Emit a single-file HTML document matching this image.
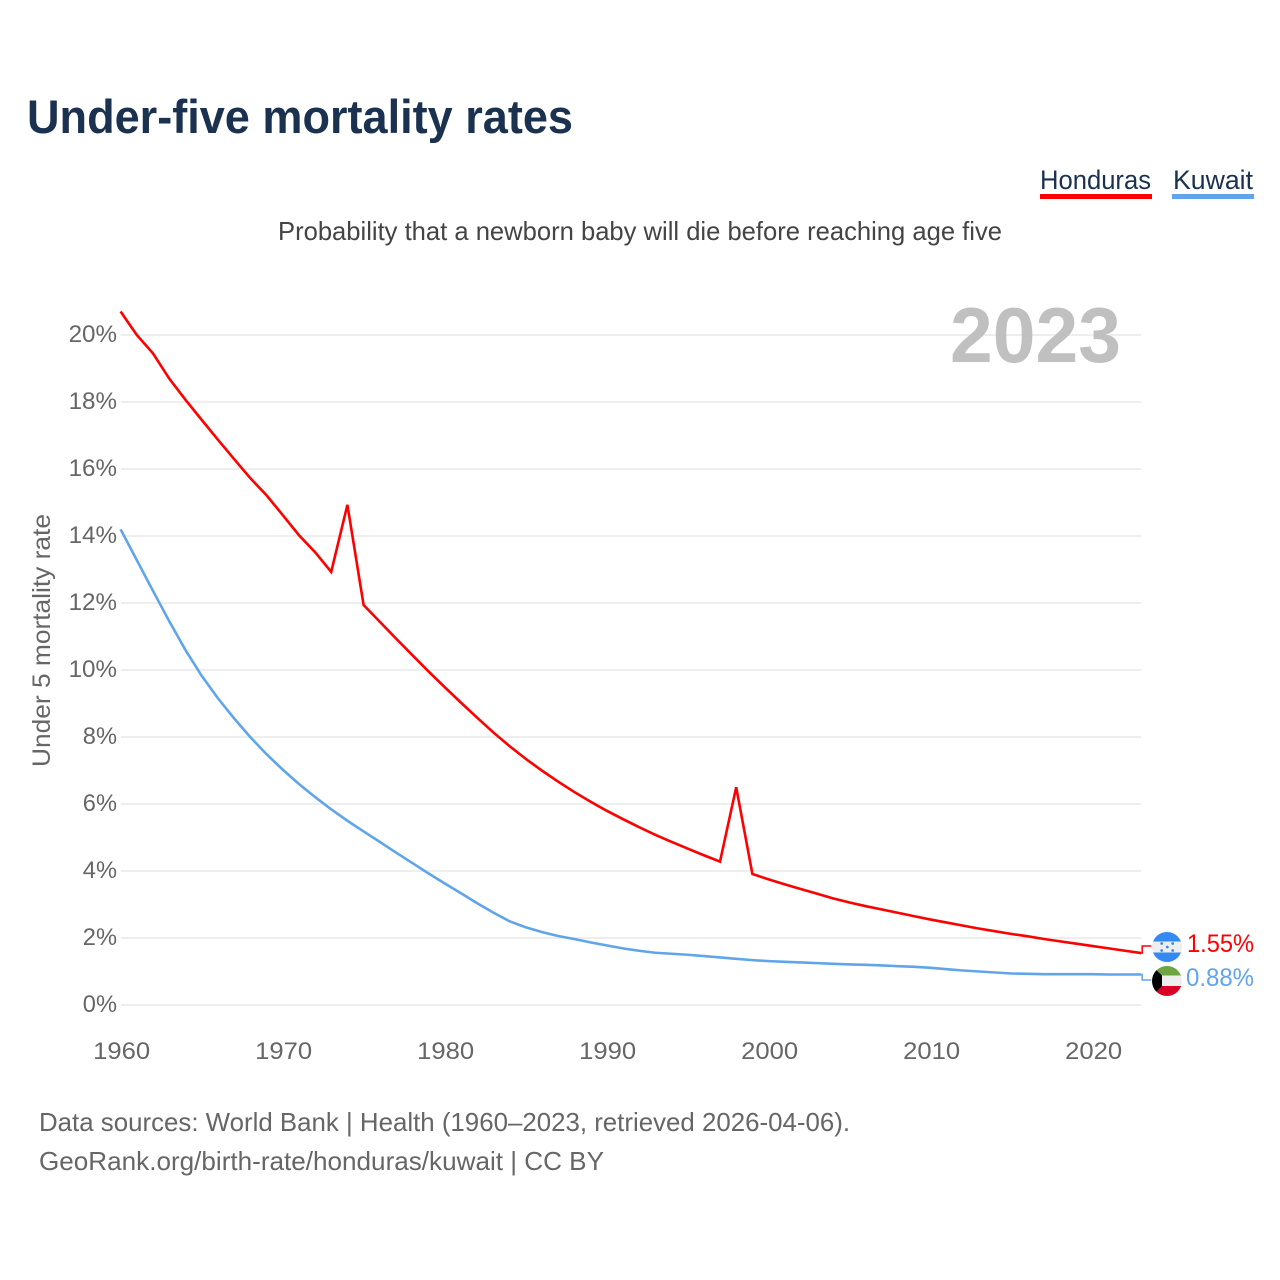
<!DOCTYPE html>
<html lang="en">
<head>
<meta charset="utf-8">
<title>Under-five mortality rates</title>
<style>
html,body{margin:0;padding:0;background:#fff;width:1280px;height:1280px;overflow:hidden}
svg{display:block}
text{font-family:"Liberation Sans",sans-serif}
</style>
</head>
<body>
<svg id="chart" xmlns="http://www.w3.org/2000/svg" width="1280" height="1280" viewBox="0 0 1280 1280">
  <defs>
    <clipPath id="clip-hn"><circle cx="1167" cy="947" r="15"/></clipPath>
    <clipPath id="clip-kw"><circle cx="1167" cy="981" r="15"/></clipPath>
  </defs>
  <text x="27" y="133" font-size="47" font-weight="700" fill="#1a3150" textLength="546" lengthAdjust="spacingAndGlyphs">Under-five mortality rates</text>
  <g>
    <text x="1040" y="189" font-size="27" fill="#1a3150" textLength="111" lengthAdjust="spacingAndGlyphs">Honduras</text>
    <rect x="1040" y="194" width="112" height="5" fill="#ff0000"/>
  </g>
  <g>
    <text x="1173" y="189" font-size="27" fill="#1a3150" textLength="80" lengthAdjust="spacingAndGlyphs">Kuwait</text>
    <rect x="1172" y="194" width="82" height="5" fill="#60a5ea"/>
  </g>
  <text x="278" y="240" font-size="26" fill="#444" textLength="724" lengthAdjust="spacingAndGlyphs">Probability that a newborn baby will die before reaching age five</text>
  <g id="grid"></g>
  <text x="950" y="362" font-size="78" font-weight="700" fill="#bdbdbd" fill-opacity="0.95" textLength="171" lengthAdjust="spacingAndGlyphs">2023</text>
  <text transform="translate(50,767) rotate(-90)" x="0" y="0" font-size="25" fill="#666" textLength="253" lengthAdjust="spacingAndGlyphs">Under 5 mortality rate</text>
  <g id="y-ticks"></g>
  <g id="x-ticks"></g>
  <g id="series"></g>
  <g clip-path="url(#clip-hn)">
    <rect x="1152" y="932" width="30" height="30" fill="#eeeeee"/>
    <rect x="1152" y="932" width="30" height="9.5" fill="#338af3"/>
    <rect x="1152" y="952.5" width="30" height="9.5" fill="#338af3"/>
    <g fill="#338af3">
      <circle cx="1161.7" cy="943.5" r="1.4"/><circle cx="1172.7" cy="943.5" r="1.4"/><circle cx="1167.3" cy="947" r="1.4"/><circle cx="1161.7" cy="950.5" r="1.4"/><circle cx="1172.7" cy="950.5" r="1.4"/>
    </g>
  </g>
  <g clip-path="url(#clip-kw)">
    <rect x="1152" y="966" width="30" height="30" fill="#eeeeee"/>
    <rect x="1152" y="966" width="30" height="9.5" fill="#6da544"/>
    <rect x="1152" y="986" width="30" height="10" fill="#d80027"/>
    <polygon points="1152,966 1162,975.5 1162,986 1152,996" fill="#000"/>
  </g>
  <text x="1187" y="952" font-size="25" fill="#ff0000" textLength="67" lengthAdjust="spacingAndGlyphs">1.55%</text>
  <text x="1186" y="986" font-size="25" fill="#60a5ea" textLength="68" lengthAdjust="spacingAndGlyphs">0.88%</text>
  <text x="39" y="1131" font-size="26" fill="#666" textLength="811" lengthAdjust="spacingAndGlyphs">Data sources: World Bank | Health (1960–2023, retrieved 2026-04-06).</text>
  <text x="39" y="1170" font-size="26" fill="#666" textLength="565" lengthAdjust="spacingAndGlyphs">GeoRank.org/birth-rate/honduras/kuwait | CC BY</text>
</svg>
<script>
var startYear = 1960;
var honduras = [20.7,20.0,19.45,18.7,18.07,17.47,16.88,16.3,15.73,15.22,14.63,14.03,13.52,12.93,14.93,11.94,
  11.44,10.94,10.45,9.96,9.49,9.03,8.58,8.14,7.73,7.35,7.0,6.67,6.36,6.07,5.8,5.55,5.31,5.08,4.87,4.67,4.47,4.28,6.5,3.91,
  3.75,3.6,3.46,3.32,3.18,3.06,2.95,2.85,2.75,2.65,2.55,2.46,2.37,2.28,2.2,2.12,2.05,1.97,1.9,1.83,1.76,1.69,1.62,1.55];
var kuwait = [14.2,13.28,12.36,11.46,10.6,9.83,9.16,8.56,8.0,7.49,7.03,6.6,6.21,5.84,5.5,5.18,
  4.87,4.55,4.24,3.93,3.63,3.34,3.04,2.76,2.5,2.32,2.18,2.06,1.97,1.87,1.78,1.69,1.62,1.56,1.53,1.5,1.46,1.42,1.38,1.34,
  1.31,1.29,1.27,1.25,1.23,1.21,1.2,1.18,1.16,1.14,1.11,1.07,1.03,1.0,0.97,0.94,0.93,0.92,0.92,0.92,0.92,0.91,0.91,0.91];
var yTicks = [0,2,4,6,8,10,12,14,16,18,20];
var xTicks = [1960,1970,1980,1990,2000,2010,2020];

var NS = 'http://www.w3.org/2000/svg';
function xScale(year){ return 120.6 + (year - 1960) * 16.2; }
function yScale(pct){ return 1005 - pct * 33.5; }

var gridG = document.getElementById('grid');
var yG = document.getElementById('y-ticks');
var xG = document.getElementById('x-ticks');
var seriesG = document.getElementById('series');

yTicks.forEach(function(t){
  var y = yScale(t);
  var line = document.createElementNS(NS,'line');
  
  
  line.setAttribute('x1', 121);
  line.setAttribute('x2', 1141);
  line.setAttribute('y1', y);
  line.setAttribute('y2', y);
  line.setAttribute('stroke', '#eeeeee');
  line.setAttribute('stroke-width', 2);
  gridG.appendChild(line);
  var label = t + '%';
  var txt = document.createElementNS(NS,'text');
  
  
  var w = (label.length - 1) * 14.2 + 20;
  txt.setAttribute('x', 117 - w);
  txt.setAttribute('y', y + 7);
  txt.setAttribute('font-size', 24);
  txt.setAttribute('fill', '#666');
  txt.setAttribute('textLength', w);
  txt.setAttribute('lengthAdjust', 'spacingAndGlyphs');
  txt.textContent = label;
  yG.appendChild(txt);
});

xTicks.forEach(function(t){
  var txt = document.createElementNS(NS,'text');
  
  
  txt.setAttribute('x', xScale(t) - 27.5);
  txt.setAttribute('y', 1059);
  txt.setAttribute('font-size', 24);
  txt.setAttribute('fill', '#666');
  txt.setAttribute('textLength', 57);
  txt.setAttribute('lengthAdjust', 'spacingAndGlyphs');
  txt.textContent = t;
  xG.appendChild(txt);
});

function drawSeries(values, color, flagY){
  var pts = values.map(function(v,i){ return xScale(startYear + i).toFixed(2) + ',' + yScale(v).toFixed(2); });
  var line = document.createElementNS(NS,'polyline');
  
  
  line.setAttribute('points', pts.join(' '));
  line.setAttribute('fill', 'none');
  line.setAttribute('stroke', color);
  line.setAttribute('stroke-width', 2.6);
  line.setAttribute('stroke-linejoin', 'miter');
  seriesG.appendChild(line);
  var endX = xScale(startYear + values.length - 1);
  var endY = yScale(values[values.length - 1]);
  var conn = document.createElementNS(NS,'polyline');
  
  
  conn.setAttribute('points', endX + ',' + endY + ' ' + (endX + 1) + ',' + endY + ' ' + (endX + 1) + ',' + flagY + ' ' + (endX + 10) + ',' + flagY);
  conn.setAttribute('fill', 'none');
  conn.setAttribute('stroke', color);
  conn.setAttribute('stroke-width', 1.5);
  seriesG.appendChild(conn);
}
drawSeries(honduras, '#ff0000', 946);
drawSeries(kuwait, '#60a5ea', 980);
</script>
</body>
</html>
